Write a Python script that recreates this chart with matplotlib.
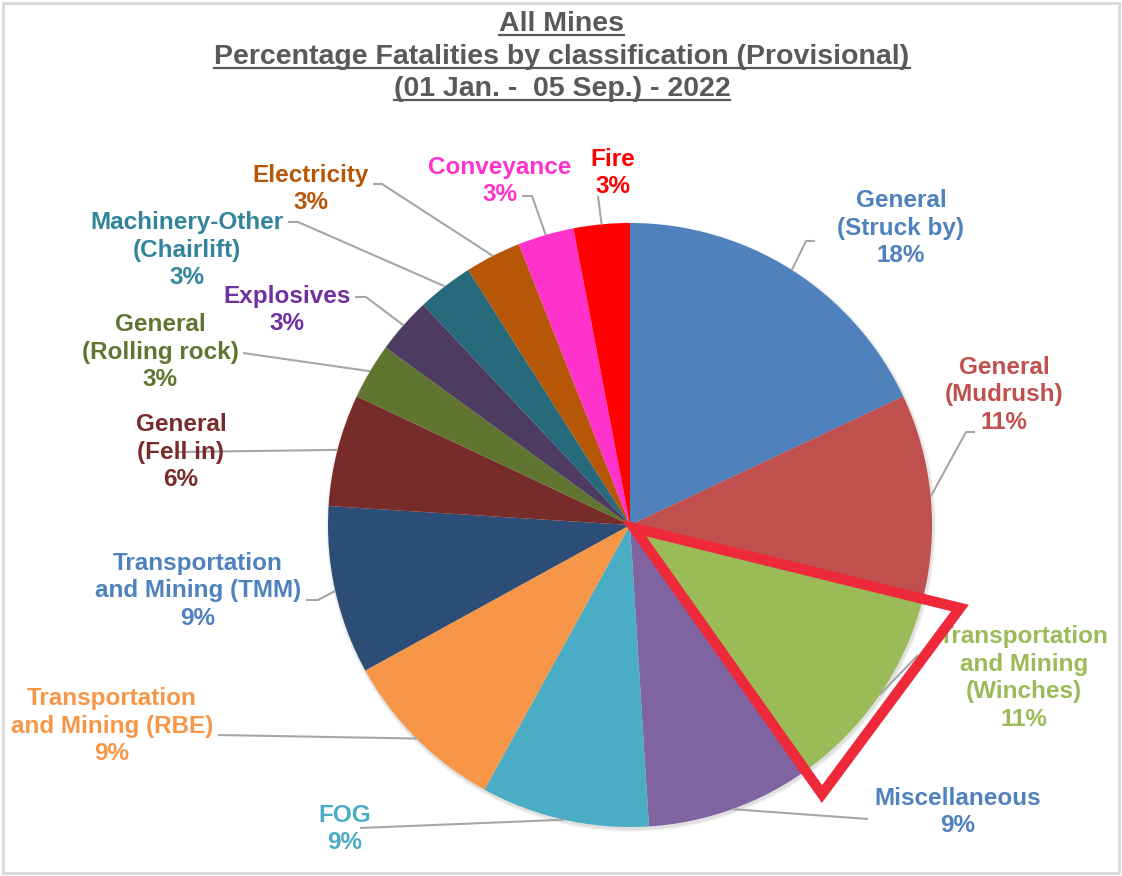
import numpy as np
import matplotlib.pyplot as plt
from matplotlib.patches import Rectangle, Polygon

plt.rcParams['font.family'] = ['Liberation Sans', 'DejaVu Sans']

# data
categories = ['General\n(Struck by)', 'General\n(Mudrush)',
              'Transportation\nand Mining\n(Winches)', 'Miscellaneous', 'FOG',
              'Transportation\nand Mining (RBE)', 'Transportation\nand Mining (TMM)',
              'General\n(Fell in)', 'General\n(Rolling rock)', 'Explosives',
              'Machinery-Other\n(Chairlift)', 'Electricity', 'Conveyance', 'Fire']
percent = [18, 11, 11, 9, 9, 9, 9, 6, 3, 3, 3, 3, 3, 3]
slice_colors = ['#4F81BD', '#C0504D', '#9BBB59', '#8064A2', '#4BACC6', '#F79646',
                '#2C4D75', '#772C2A', '#5F7530', '#4D3B62', '#276A7C', '#B65708',
                '#FF33CC', '#FF0000']
label_colors = ['#4F81BD', '#C0504D', '#9BBB59', '#4F81BD', '#4BACC6', '#F79646',
                '#4F81BD', '#772C2A', '#5F7530', '#7030A0', '#31849B', '#B65708',
                '#FF33CC', '#FF0000']
title_lines = ['All Mines', 'Percentage Fatalities by classification (Provisional)',
               '(01 Jan. -  05 Sep.) - 2022']

# layout (pixel space, y measured from top)
W, H = 1122, 876
cx, cy, R = 630, 525, 302
label_pos = [(901, 228), (1004, 395), (1024, 678), (958, 812), (345, 829),
             (112, 726), (198, 591), (181, 452), (160, 352), (287, 310),
             (187, 250), (311, 189), (500, 181), (613, 173)]
leader_end = [(815, 241), (975, 432), (918, 655), (868, 819), (360, 828),
              (218, 735), (306, 600), (178, 452), (243, 353), (355, 297),
              (288, 222), (373, 184), (522, 196), (598, 196)]
elbow_len = [9, 9, 0, 0, 0, 0, 12, 0, 0, 11, 10, 9, 10, 0]

fig = plt.figure(figsize=(W / 100, H / 100), dpi=100)
ax = fig.add_axes([0, 0, 1, 1])

def py(y):
    return H - y

# faint shadow
for k, a in enumerate([0.05, 0.04, 0.03]):
    ax.add_patch(plt.Circle((cx + 1, py(cy) - 2), R + 1 + k, color='#000000',
                            alpha=a, lw=0, zorder=1))

wedges, _ = ax.pie(percent, colors=slice_colors, startangle=90, counterclock=False,
                   center=(cx, py(cy)), radius=R, frame=True,
                   wedgeprops=dict(linewidth=0, zorder=2))
ax.set_xlim(0, W)
ax.set_ylim(0, H)
ax.axis('off')

for i, w in enumerate(wedges):
    ang = np.deg2rad((w.theta1 + w.theta2) / 2)
    ex, ey = cx + R * np.cos(ang), py(cy) + R * np.sin(ang)
    lx, ly = leader_end[i]
    pts_x = [lx]
    pts_y = [py(ly)]
    if elbow_len[i]:
        d = elbow_len[i] if ex > lx else -elbow_len[i]
        pts_x.append(lx + d)
        pts_y.append(py(ly))
    pts_x.append(ex)
    pts_y.append(ey)
    ax.plot(pts_x, pts_y, color='#A6A6A6', lw=1.5, zorder=3, solid_capstyle='butt')
    tx, ty = label_pos[i]
    ax.text(tx, py(ty), f'{categories[i]}\n{percent[i]}%', ha='center', va='center',
            multialignment='center', fontsize=17.5, fontweight='bold',
            color=label_colors[i], linespacing=1.27, zorder=4)

# highlight triangle around the winches slice
tri = Polygon([(cx + 4, py(cy + 3)), (960, py(608)), (822, py(794))], closed=True,
              fill=False, edgecolor='#EE2A3A', lw=7.5, joinstyle='miter', zorder=5)
ax.add_patch(tri)

# underlined title
title_base = [31, 64, 96]
for txt, yb in zip(title_lines, title_base):
    t = ax.text(W / 2 + 1, py(yb), txt, ha='center', va='baseline', fontsize=20.5,
                fontweight='bold', color='#595959')
    fig.canvas.draw()
    bb = t.get_window_extent()
    ax.plot([bb.x0, bb.x1], [py(yb + 4), py(yb + 4)], color='#595959', lw=1.6)

# chart border
fig.patches.append(Rectangle((3 / W, 3 / H), 1 - 6 / W, 1 - 6 / H, transform=fig.transFigure,
                             fill=False, edgecolor='#D9D9D9', lw=2))

fig.savefig('out.png', dpi=100)
